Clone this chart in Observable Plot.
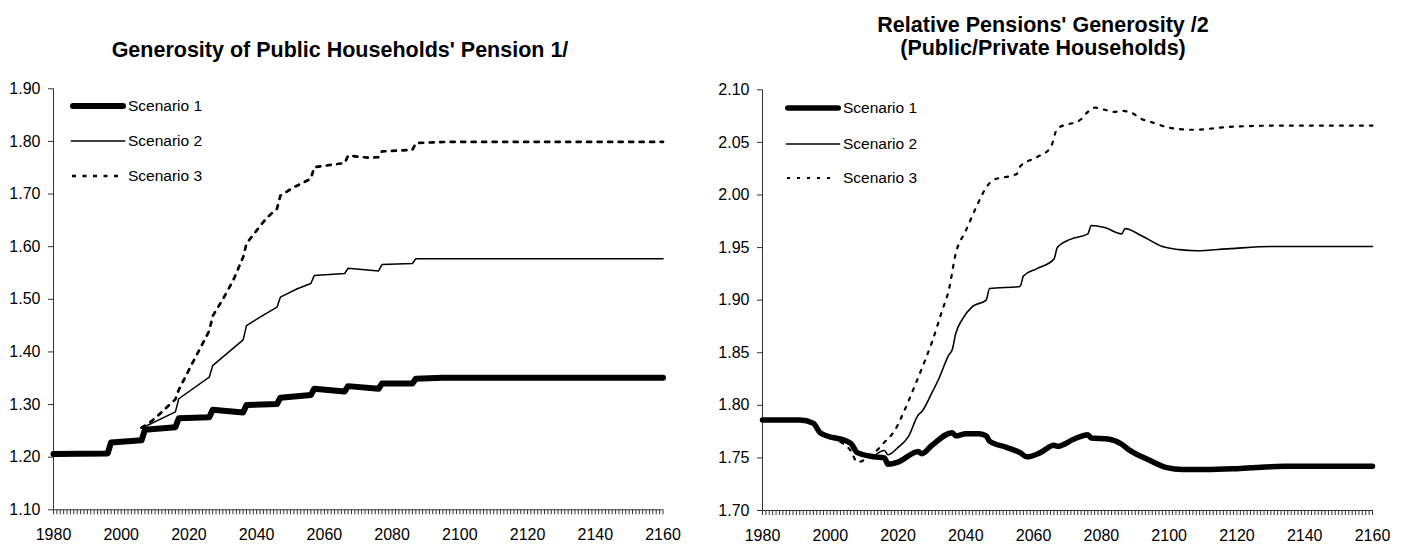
<!DOCTYPE html>
<html>
<head>
<meta charset="utf-8">
<script src="https://cdn.jsdelivr.net/npm/d3@7"></script>
<script src="https://cdn.jsdelivr.net/npm/@observablehq/plot@0.6"></script>
<style>
  body { margin: 0; background: #fff; font-family: "Liberation Sans", Arial, sans-serif; color: #000; }
  #wrap { display: flex; width: 1406px; height: 550px; }
  .panel { position: relative; width: 703px; height: 550px; }
  .head { height: 62px; }
  .title { position: absolute; left: 0; width: 680px; text-align: center; font-weight: bold; font-size: 21.5px; line-height: 22.5px; }
  .legend { position: absolute; font-size: 15.5px; }
  .legend .row { position: absolute; left: 0; height: 18px; display: flex; align-items: center; white-space: nowrap; }
  .legend svg { display: block; }
  .panel > svg { display: block; }
</style>
</head>
<body>
<div id="wrap">
  <div class="panel" id="left">
    <div class="head"><div class="title" style="top:39px">Generosity of Public Households' Pension 1/</div></div>
  </div>
  <div class="panel" id="right">
    <div class="head"><div class="title" style="top:14px">Relative Pensions' Generosity /2<br>(Public/Private Households)</div></div>
  </div>
</div>
<script>
// ticks
const xTicks = d3.range(1980, 2161, 20);
const yearTicks = d3.range(1980, 2161, 1);
const yTicksLeft = [1.10, 1.20, 1.30, 1.40, 1.50, 1.60, 1.70, 1.80, 1.90];
const yTicksRight = [1.70, 1.75, 1.80, 1.85, 1.90, 1.95, 2.00, 2.05, 2.10];
const seriesNames = ["Scenario 1", "Scenario 2", "Scenario 3"];

// left panel: generosity of public households' pension
const genS1 = [[1980,1.206],[1996,1.207],[1997,1.228],[2006,1.232],[2007,1.252],[2016,1.257],[2017,1.274],
  [2026,1.276],[2027,1.290],[2036,1.285],[2037,1.299],[2046,1.301],[2047,1.313],[2056,1.318],[2057,1.330],
  [2066,1.325],[2067,1.335],[2076,1.330],[2077,1.340],[2086,1.340],[2087,1.349],[2095,1.351],[2160,1.351]];
const genS2 = [[2006,1.255],[2016,1.286],[2017,1.311],[2026,1.352],[2027,1.374],[2036,1.423],[2037,1.450],
  [2041,1.466],[2046,1.485],[2047,1.504],[2052,1.520],[2056,1.530],[2057,1.545],[2066,1.549],[2067,1.559],
  [2076,1.554],[2077,1.566],[2086,1.568],[2087,1.577],[2160,1.577]];
const genS3 = [[2006,1.256],[2008,1.264],[2010,1.274],[2013,1.292],[2016,1.310],[2017,1.328],[2020,1.366],
  [2023,1.403],[2026,1.440],[2027,1.468],[2030,1.500],[2033,1.535],[2036,1.580],[2037,1.606],[2040,1.631],
  [2043,1.655],[2046,1.672],[2047,1.697],[2051,1.713],[2056,1.729],[2057,1.751],[2066,1.759],[2067,1.773],
  [2073,1.769],[2076,1.770],[2077,1.781],[2086,1.784],[2087,1.797],[2096,1.799],[2160,1.799]];

// right panel: relative generosity public/private
const relS1 = [[1980,1.786],[1991,1.786],[1995,1.783],[1997,1.774],[2006,1.764],[2008,1.755],[2013,1.751],
  [2016,1.750],[2017,1.744],[2020,1.746],[2026,1.756],[2027,1.754],[2030,1.762],[2036,1.774],[2037,1.771],
  [2040,1.773],[2044,1.773],[2046,1.771],[2047,1.766],[2052,1.760],[2056,1.755],[2058,1.751],[2062,1.755],
  [2066,1.762],[2067,1.761],[2072,1.768],[2076,1.772],[2077,1.769],[2082,1.768],[2086,1.763],[2088,1.758],
  [2094,1.748],[2099,1.741],[2104,1.739],[2111,1.739],[2121,1.740],[2134,1.742],[2160,1.742]];
const relS2 = [[2013,1.752],[2016,1.757],[2017,1.753],[2020,1.760],[2023,1.770],[2026,1.791],[2027,1.794],
  [2030,1.812],[2032,1.825],[2035,1.848],[2036,1.853],[2037,1.868],[2039,1.882],[2042,1.894],[2046,1.900],
  [2047,1.911],[2056,1.913],[2057,1.923],[2061,1.930],[2066,1.939],[2067,1.950],[2071,1.958],[2076,1.963],
  [2077,1.971],[2081,1.969],[2086,1.963],[2087,1.968],[2092,1.961],[2098,1.951],[2103,1.948],[2108,1.947],
  [2118,1.949],[2130,1.951],[2160,1.951]];
const relS3 = [[2003,1.765],[2006,1.757],[2008,1.746],[2011,1.750],[2014,1.758],[2016,1.765],[2019,1.776],
  [2022,1.796],[2025,1.819],[2028,1.843],[2030,1.860],[2033,1.890],[2035,1.910],[2037,1.944],[2040,1.966],
  [2043,1.988],[2046,2.007],[2048,2.014],[2055,2.020],[2056,2.027],[2061,2.036],[2065,2.045],[2067,2.063],
  [2074,2.072],[2076,2.079],[2078,2.083],[2081,2.081],[2084,2.079],[2086,2.080],[2089,2.078],[2092,2.072],
  [2095,2.069],[2100,2.064],[2107,2.062],[2119,2.065],[2134,2.066],[2160,2.066]];

const axisColor = "#333";

// line looks per scenario, per panel
const leftStyles = [
  {strokeWidth: 6, strokeLinecap: "round"},
  {strokeWidth: 1.5},
  {strokeWidth: 2.7, strokeDasharray: "4,6.5"}
];
const rightStyles = [
  {strokeWidth: 5.5, strokeLinecap: "round"},
  {strokeWidth: 1.6},
  {strokeWidth: 2.2, strokeDasharray: "3,7"}
];

function makeChart(series, styles, yTicks, m, curve) {
  const yDomain = d3.extent(yTicks);
  return Plot.plot({
    width: 703,
    height: 488,
    marginTop: m.top,
    marginBottom: m.bottom,
    marginLeft: m.left,
    marginRight: m.right,
    style: {
      background: "transparent",
      color: "#000",
      fontFamily: "'Liberation Sans', Arial, sans-serif",
      fontSize: "16px",
      overflow: "visible"
    },
    x: {domain: d3.extent(xTicks)},
    y: {domain: yDomain},
    marks: [
      // minor year ticks
      Plot.axisX({ticks: yearTicks, tickSize: 5, tickFormat: () => "", stroke: axisColor, label: null}),
      Plot.axisX({ticks: xTicks, tickSize: 0, tickPadding: 19, tickFormat: d => String(d), fontSize: 16, label: null}),
      Plot.axisY({ticks: yTicks, tickSize: 5, tickPadding: 8, tickFormat: d3.format(".2f"), stroke: axisColor, fontSize: 16, label: null}),
      Plot.ruleX([xTicks[0]], {stroke: axisColor}),
      Plot.ruleY([yDomain[0]], {stroke: axisColor}),
      ...series.map((s, i) => Plot.line(s, {
        x: d => d[0],
        y: d => d[1],
        stroke: "#000",
        strokeLinejoin: "round",
        curve,
        ...styles[i]
      }))
    ]
  });
}

function makeLegend(styles, pos) {
  const lg = d3.create("div").attr("class", "legend")
    .style("left", pos.left + "px").style("top", pos.top + "px");
  seriesNames.forEach((name, i) => {
    const row = lg.append("div").attr("class", "row").style("top", pos.rows[i] + "px");
    const svg = row.append("svg").attr("width", pos.sw).attr("height", 18);
    const st = styles[i];
    svg.append("line")
      .attr("x1", st.strokeDasharray ? 2 : st.strokeWidth / 2)
      .attr("x2", st.strokeDasharray ? pos.sw - 8 : pos.sw - st.strokeWidth / 2)
      .attr("y1", 9).attr("y2", 9)
      .attr("stroke", "#000")
      .attr("stroke-width", st.strokeWidth)
      .attr("stroke-linecap", st.strokeLinecap || "butt")
      .attr("stroke-dasharray", st.strokeDasharray || null);
    row.append("span").style("margin-left", "2px").text(name);
  });
  return lg.node();
}

const left = document.getElementById("left");
left.append(makeChart([genS1, genS2, genS3], leftStyles, yTicksLeft,
  {top: 26.3, bottom: 40.7, left: 53, right: 40.5}, "linear"));
left.append(makeLegend(leftStyles, {left: 70, top: 0, sw: 56, rows: [97, 132, 167]}));

const right = document.getElementById("right");
right.append(makeChart([relS1, relS2, relS3], rightStyles, yTicksRight,
  {top: 27.3, bottom: 40, left: 59, right: 34}, "monotone-x"));
right.append(makeLegend(rightStyles, {left: 82, top: 0, sw: 56, rows: [99, 135, 169]}));
</script>
</body>
</html>
